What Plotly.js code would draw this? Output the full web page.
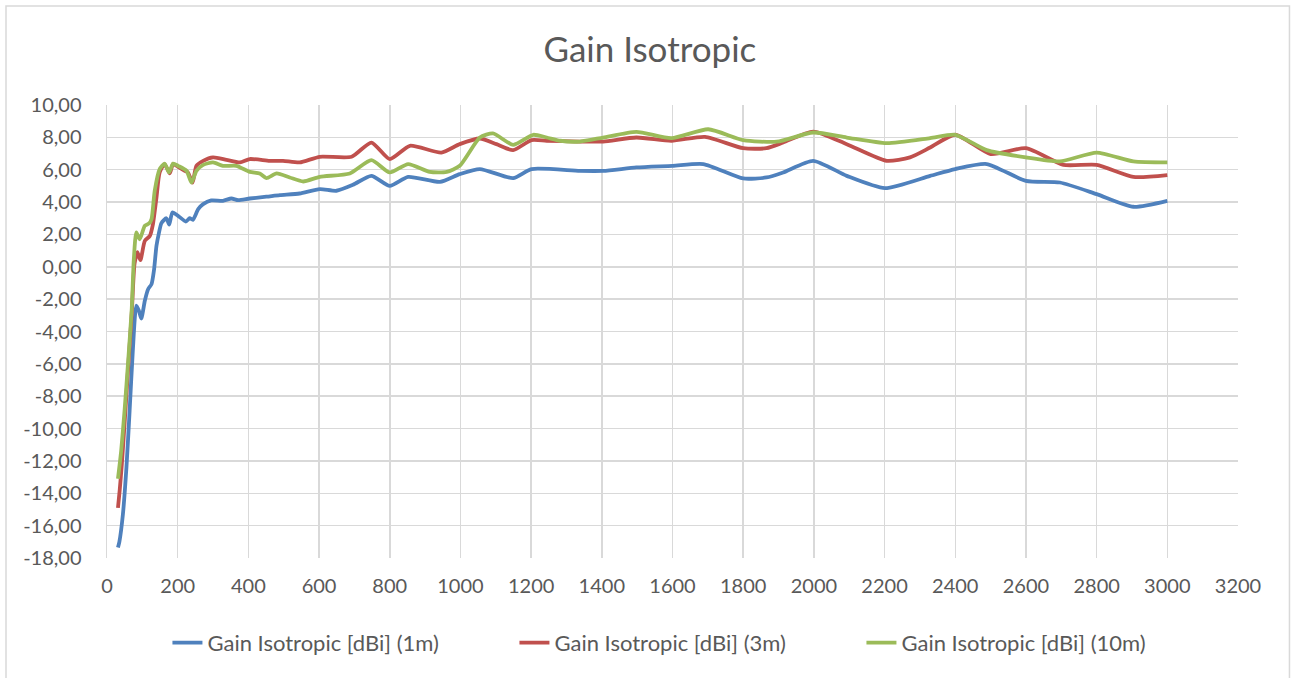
<!DOCTYPE html>
<html>
<head>
<meta charset="utf-8">
<script src="https://cdn.plot.ly/plotly-3.0.1.min.js"></script>
<style>html,body{margin:0;padding:0;background:#fff;}#chart{width:1292px;height:678px;}</style>
</head>
<body>
<div id="chart"></div>
<script>
// Frequency (x) and gain (dBi) for each series
const freq1m = [31, 35, 45, 55, 64, 73, 83, 90, 97, 107, 116, 126, 133, 140, 147, 154, 168, 176, 185, 201, 223, 234, 243, 258, 272, 295, 328, 352, 371, 404, 451, 489, 545, 602, 649, 696, 748, 800, 852, 942, 998, 1055, 1149, 1201, 1338, 1404, 1498, 1600, 1687, 1800, 1866, 1913, 1998, 2093, 2201, 2329, 2400, 2489, 2600, 2696, 2800, 2904, 3000];
const gain1m = [-17.35, -17.0, -15.3, -12.4, -8.9, -5.2, -2.4, -2.7, -3.2, -2.1, -1.4, -1.07, -0.2, 1.3, 2.1, 2.7, 3.0, 2.6, 3.36, 3.15, 2.8, 3.0, 2.9, 3.56, 3.87, 4.1, 4.08, 4.22, 4.12, 4.22, 4.33, 4.43, 4.53, 4.8, 4.7, 5.07, 5.62, 5.0, 5.56, 5.25, 5.73, 6.04, 5.48, 6.04, 5.93, 5.93, 6.14, 6.24, 6.35, 5.46, 5.52, 5.83, 6.55, 5.62, 4.86, 5.62, 6.04, 6.35, 5.31, 5.21, 4.49, 3.71, 4.08];

const freq3m = [31, 36, 42, 50, 60, 70, 78, 86, 94.5, 107, 121, 130, 140, 149, 163, 177.5, 187, 201, 220, 229, 242, 253, 272, 300, 338, 376, 404, 460, 498, 545, 602, 692, 748, 800, 857, 946, 998, 1055, 1102, 1149, 1201, 1244, 1338, 1404, 1498, 1597, 1692, 1800, 1866, 1913, 1998, 2093, 2206, 2272, 2329, 2400, 2500, 2600, 2706, 2800, 2904, 3000];
const gain3m = [-14.9, -13.8, -12.2, -9.6, -6.2, -2.9, 0.2, 0.9, 0.41, 1.6, 1.9, 2.64, 4.28, 5.83, 6.35, 5.77, 6.35, 6.18, 5.93, 5.83, 5.2, 6.24, 6.55, 6.76, 6.61, 6.45, 6.66, 6.55, 6.55, 6.45, 6.8, 6.8, 7.68, 6.66, 7.48, 7.06, 7.58, 7.93, 7.58, 7.21, 7.83, 7.79, 7.74, 7.74, 7.99, 7.79, 8.03, 7.33, 7.33, 7.68, 8.36, 7.58, 6.55, 6.76, 7.37, 8.16, 6.97, 7.33, 6.3, 6.3, 5.56, 5.67];

const freq10m = [31, 40, 50, 60, 70, 76, 83, 92.5, 107, 119, 126, 135, 149, 163, 175.5, 187, 201, 225, 239, 253, 272, 300, 328, 366, 404, 432, 451, 480, 517, 555, 602, 687, 748, 800, 852, 913, 961, 998, 1055, 1092, 1149, 1206, 1244, 1282, 1338, 1404, 1498, 1597, 1701, 1800, 1895, 1998, 2093, 2206, 2329, 2400, 2489, 2600, 2696, 2800, 2904, 3000];
const gain10m = [-13.1, -11.4, -8.8, -5.8, -2.6, 0.5, 2.12, 1.7, 2.53, 2.68, 2.95, 4.7, 6.04, 6.38, 5.83, 6.38, 6.24, 5.93, 5.2, 5.93, 6.3, 6.45, 6.24, 6.24, 5.87, 5.77, 5.48, 5.77, 5.52, 5.27, 5.56, 5.77, 6.59, 5.83, 6.35, 5.87, 5.87, 6.24, 7.99, 8.24, 7.54, 8.16, 7.99, 7.79, 7.74, 7.99, 8.34, 7.95, 8.5, 7.83, 7.73, 8.3, 7.99, 7.64, 7.95, 8.16, 7.21, 6.76, 6.51, 7.06, 6.51, 6.45];

const seriesNames = ['Gain Isotropic [dBi] (1m)', 'Gain Isotropic [dBi] (3m)', 'Gain Isotropic [dBi] (10m)'];
const seriesColors = ['#4F81BD', '#C0504D', '#9BBB59'];
const xTicks = [0, 200, 400, 600, 800, 1000, 1200, 1400, 1600, 1800, 2000, 2200, 2400, 2600, 2800, 3000, 3200];
const yTicks = [10, 8, 6, 4, 2, 0, -2, -4, -6, -8, -10, -12, -14, -16, -18];

const xs = [freq1m, freq3m, freq10m];
const ys = [gain1m, gain3m, gain10m];

const FONT = 'Lato, "Open Sans", sans-serif';
const data = xs.map((x, i) => ({
  type: 'scatter', mode: 'lines', name: seriesNames[i],
  x: x, y: ys[i],
  line: {color: seriesColors[i], width: 3.8, shape: 'spline', smoothing: 0.6}
}));

const layout = {
  width: 1292, height: 678,
  margin: {l: 107, r: 54, t: 105, b: 120, autoexpand: false},
  paper_bgcolor: '#ffffff', plot_bgcolor: '#ffffff',
  separators: ', ',
  font: {family: FONT, color: '#595959', size: 20},
  title: {text: 'Gain Isotropic', x: 0.503, xanchor: 'center', y: 0.927, yanchor: 'middle', font: {family: FONT, size: 35, color: '#595959'}},
  showlegend: true,
  legend: {orientation: 'h', xref: 'container', yref: 'container', x: 0.1296, xanchor: 'left', y: 0.052, yanchor: 'middle',
           entrywidth: 302, entrywidthmode: 'pixels', font: {family: FONT, size: 22, color: '#595959'}, bgcolor: 'rgba(0,0,0,0)'},
  xaxis: {range: [0, 3200], tickvals: xTicks, ticktext: xTicks.map(String), showgrid: true, gridcolor: '#d9d9d9', gridwidth: 1.5,
          zeroline: false, showline: false, ticks: '', ticklabelstandoff: 14, tickfont: {family: FONT, size: 20, color: '#595959'}, fixedrange: true},
  yaxis: {range: [-18, 10], tickvals: yTicks, ticktext: yTicks.map(v => v.toFixed(2).replace('.', ',')), showgrid: true, gridcolor: '#d9d9d9', gridwidth: 1.5,
          zeroline: false, showline: true, linecolor: '#d9d9d9', linewidth: 1.5, ticks: '', ticklabelstandoff: 20, tickfont: {family: FONT, size: 20, color: '#595959'}, fixedrange: true},
  shapes: [
    {type: 'rect', xref: 'paper', yref: 'paper', x0: -0.0893, x1: 1.0455, y0: -0.3, y1: 1.2185, line: {color: '#d9d9d9', width: 1.5}, fillcolor: 'rgba(0,0,0,0)', layer: 'below'}
  ]
};

Plotly.newPlot('chart', data, layout, {displayModeBar: false, staticPlot: true});
</script>
</body>
</html>
